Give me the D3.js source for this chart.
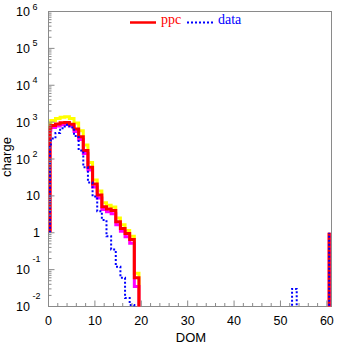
<!DOCTYPE html>
<html><head><meta charset="utf-8">
<script src="https://cdn.jsdelivr.net/npm/d3@7"></script>
<style>body{margin:0;background:#fff}svg{display:block}</style>
</head><body>
<svg id="c" width="337" height="344"></svg>
<script>
// DOM bins 0..60 (bin centred on integer DOM)
const ppc = [700, 815, 890, 955, 975, 880, 650, 400, 170, 60, 21, 10.6, 5.1, 4.4, 4.0, 2.0, 1.3, 0.95, 0.66, 0.06,
  0,0,0,0,0,0,0,0,0,0, 0,0,0,0,0,0,0,0,0,0, 0,0,0,0,0,0,0,0,0,0, 0,0,0,0,0,0,0,0,0,0, 0];
const ppcHigh = [880, 1100, 1250, 1350, 1390, 1250, 950, 580, 240, 80, 27, 13.5, 6.5, 5.6, 5.0, 2.5, 1.65, 1.15, 0.8, 0.08,
  0,0,0,0,0,0,0,0,0,0, 0,0,0,0,0,0,0,0,0,0, 0,0,0,0,0,0,0,0,0,0, 0,0,0,0,0,0,0,0,0,0, 0];
const ppcLow = [600, 720, 790, 850, 870, 780, 560, 340, 140, 50, 17.5, 8.8, 4.3, 3.7, 3.3, 1.65, 1.1, 0.78, 0.52, 0.035,
  0,0,0,0,0,0,0,0,0,0, 0,0,0,0,0,0,0,0,0,0, 0,0,0,0,0,0,0,0,0,0, 0,0,0,0,0,0,0,0,0,0, 0];
const data = [210, 360, 510, 680, 850, 720, 420, 170, 60, 23, 9.6, 3.8, 2.2, 0.8, 0.35, 0.12, 0.06, 0.017, 0.011, 0,
  0,0,0,0,0,0,0,0,0,0, 0,0,0,0,0,0,0,0,0,0, 0,0,0,0,0,0,0,0,0,0, 0,0,0,0.03,0,0,0,0,0,0, 0];
const xTicks = [0, 10, 20, 30, 40, 50, 60];
const yTicks = [1e6, 1e5, 1e4, 1e3, 1e2, 10, 1, 0.1, 0.01];
const yTickBase = ["10", "10", "10", "10", "10", "10", "1", "10", "10"];
const yTickExp = ["6", "5", "4", "3", "2", "", "", "-1", "-2"];
const legendNames = ["ppc", "data"];

const svg = d3.select("#c");
const L = 48.5, R = 331.5, T = 11.5, B = 306.5;
const x = d3.scaleLinear().domain([0, 61]).range([L, R]);
const y = d3.scaleLog().domain([1e-2, 1e6]).range([B, T]);
const FLOOR = 1e-4; // empty bins drawn below the frame (clipped)

// frame
const axc = "#8a8a8a";
svg.append("rect").attr("x", L).attr("y", T).attr("width", R - L).attr("height", B - T)
  .attr("fill", "none").attr("stroke", axc).attr("stroke-width", 1);

svg.append("clipPath").attr("id", "clip").append("rect")
  .attr("x", L).attr("y", T).attr("width", R - L).attr("height", B - T);

function stepPts(vals) {
  const pts = [[-0.5, 1]];
  vals.forEach((v, i) => {
    const vv = v > 0 ? v : FLOOR;
    pts.push([i - 0.5, vv], [i + 0.5, vv]);
  });
  pts.push([vals.length - 0.5, 1]);
  return pts;
}
const line = d3.line().x(d => d[0] < 0 ? x(0) + 1.5 : x(d[0])).y(d => y(d[1]));

const g = svg.append("g").attr("clip-path", "url(#clip)");
const series = [
  {v: ppcHigh, c: "#ffff00", w: 3, dash: null},
  {v: ppcLow, c: "#ff00ff", w: 3, dash: null},
  {v: ppc, c: "#ff0000", w: 3, dash: null},
  {v: data, c: "#0000ff", w: 2, dash: "2,2"}
];
series.forEach(s => {
  g.append("path").attr("d", line(stepPts(s.v))).attr("fill", "none")
    .attr("stroke", s.c).attr("stroke-width", s.w)
    .attr("stroke-dasharray", s.dash).attr("stroke-linejoin", "miter");
});

// x ticks
const xMinor = d3.range(0, 61, 2);
svg.append("g").selectAll("line").data(xMinor).join("line")
  .attr("x1", d => x(d)).attr("x2", d => x(d))
  .attr("y1", B).attr("y2", d => B - (d % 10 === 0 ? 6 : 3.5))
  .attr("stroke", axc);
svg.append("g").selectAll("text").data(xTicks).join("text")
  .attr("x", d => x(d)).attr("y", 324.5).attr("text-anchor", "middle")
  .attr("font-family", "Liberation Sans, Arial, sans-serif").attr("font-size", 12.5)
  .text(d => d);

// y ticks
const yMinor = [];
for (let e = -2; e < 6; e++) for (let m = 1; m < 10; m++) yMinor.push(m * Math.pow(10, e));
yMinor.push(1e6);
svg.append("g").selectAll("line").data(yMinor).join("line")
  .attr("x1", L).attr("x2", d => L + (Math.abs(Math.log10(d) - Math.round(Math.log10(d))) < 1e-9 ? 6 : 3))
  .attr("y1", d => y(d)).attr("y2", d => y(d)).attr("stroke", axc);

const yl = svg.append("g").attr("font-family", "Liberation Sans, Arial, sans-serif");
yTicks.forEach((t, i) => {
  const ty = y(t);
  const ex = yTickExp[i];
  if (ex === "") {
    yl.append("text").attr("x", 40).attr("y", ty + 4.5).attr("text-anchor", "end")
      .attr("font-size", 12.5).text(yTickBase[i]);
  } else {
    yl.append("text").attr("x", 30).attr("y", ty + 4.5).attr("text-anchor", "end")
      .attr("font-size", 12.5).text(yTickBase[i]);
    const neg = ex.startsWith("-");
    yl.append("text").attr("x", 32.5).attr("y", ty + (neg ? -7.5 : -2))
      .attr("font-size", 9).text(ex);
  }
});

// axis titles
svg.append("text").attr("x", x(30.7)).attr("y", 342).attr("text-anchor", "middle")
  .attr("font-family", "Liberation Sans, Arial, sans-serif").attr("font-size", 13).text("DOM");
svg.append("text").attr("transform", "translate(11," + 157 + ") rotate(-90)")
  .attr("text-anchor", "middle")
  .attr("font-family", "Liberation Sans, Arial, sans-serif").attr("font-size", 13).text("charge");

// legend
const lg = svg.append("g");
lg.append("line").attr("x1", 130).attr("x2", 156).attr("y1", 22.5).attr("y2", 22.5)
  .attr("stroke", "#ff0000").attr("stroke-width", 2.5);
lg.append("text").attr("x", 161).attr("y", 24).attr("fill", "#ff0000")
  .attr("font-family", "Liberation Serif, Times New Roman, serif").attr("font-size", 14).text(legendNames[0]);
lg.append("line").attr("x1", 187).attr("x2", 213).attr("y1", 22.5).attr("y2", 22.5)
  .attr("stroke", "#0000ff").attr("stroke-width", 2).attr("stroke-dasharray", "2,2");
lg.append("text").attr("x", 218).attr("y", 24).attr("fill", "#0000ff")
  .attr("font-family", "Liberation Serif, Times New Roman, serif").attr("font-size", 14).text(legendNames[1]);
</script>
</body></html>
